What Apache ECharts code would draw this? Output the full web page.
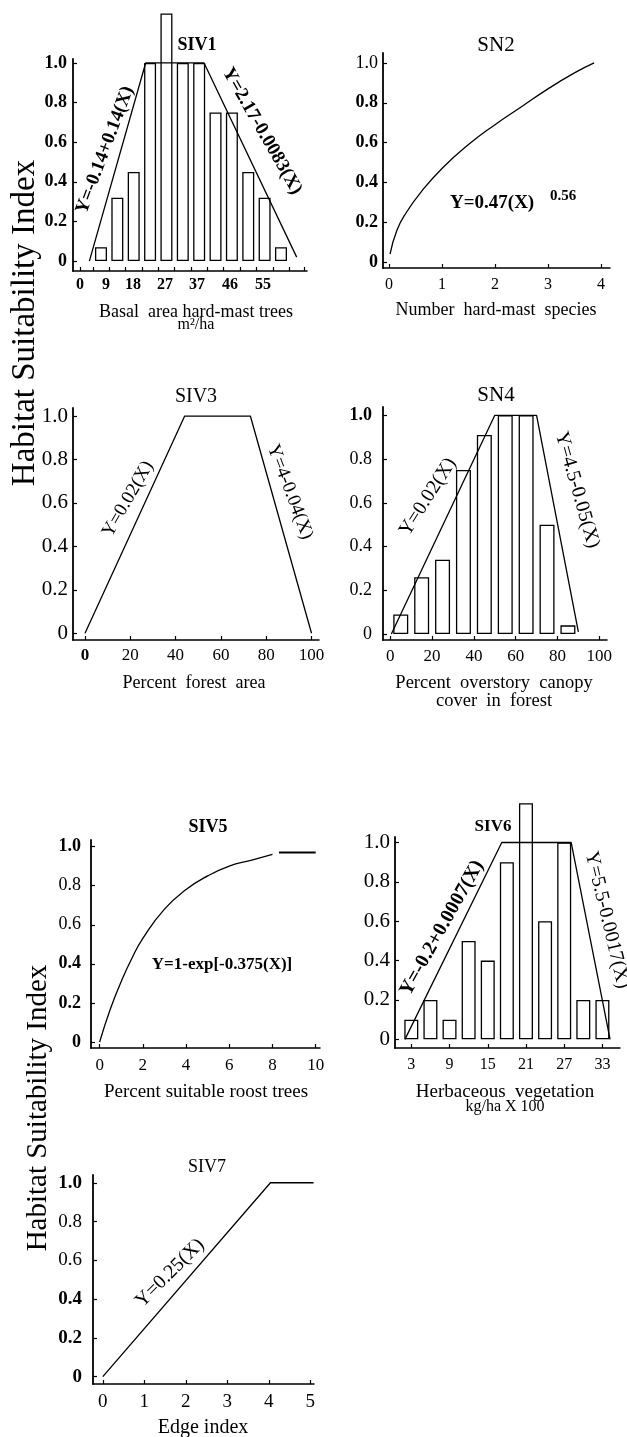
<!DOCTYPE html>
<html>
<head>
<meta charset="utf-8">
<title>Habitat Suitability Index</title>
<script src="https://cdn.jsdelivr.net/npm/echarts@6/dist/echarts.min.js"></script>
<style>html,body{margin:0;padding:0;background:#fff}</style>
</head>
<body>
<div id="main" style="width:627px;height:1437px"></div>
<script type="text/javascript">
// ---- data ----
// SIV1: bars in slot units, line knees, tick labels
var siv1Slots = [1, 2, 3, 4, 5, 6, 7, 8, 9, 10, 11, 12];
var siv1Bars = [0.07, 0.32, 0.45, 1.0, 1.25, 1.0, 1.0, 0.75, 0.75, 0.45, 0.32, 0.07];
var siv1LineX = [0.29, 3.73, 7.30, 12.96];
var siv1LineY = [0, 1, 1, 0.02];
var siv1LabelPos = [-0.28, 1.31, 2.96, 4.91, 6.87, 8.89, 10.9];
var siv1Labels = ['0', '9', '18', '27', '37', '46', '55'];
var siv1TickPos = [-0.28, 0.5, 1.5, 2.5, 3.5, 4.5, 5.5, 6.5, 7.5, 8.5, 9.5, 10.5, 11.5, 12.5, 13.4];

// SN2 curve
var sn2X = [0.02, 0.15, 0.33, 0.6, 1.0, 1.5, 2.0, 2.5, 3.0, 3.5, 3.87];
var sn2Y = [0.04, 0.16, 0.25, 0.35, 0.47, 0.59, 0.69, 0.78, 0.87, 0.95, 1.0];
var sn2Ticks = [0, 1, 2, 3, 4];

// SIV3 trapezoid
var siv3X = [0, 44, 73, 100];
var siv3Y = [0, 1, 1, 0];
var pctTicks = [0, 20, 40, 60, 80, 100];

// SN4 bars + trapezoid
var sn4BarX = [5, 15, 25, 35, 45, 55, 65, 75, 85];
var sn4Bars = [0.09, 0.26, 0.34, 0.75, 0.91, 1.0, 1.0, 0.5, 0.04];
var sn4LineX = [0.5, 50, 70, 90];
var sn4LineY = [0, 1, 1, 0.01];

// SIV5 curve + flat part
var siv5X = [0, 0.5, 1, 1.5, 2, 3, 4, 5, 6, 7, 8];
var siv5Y = [0, 0.17, 0.31, 0.43, 0.53, 0.68, 0.78, 0.85, 0.90, 0.93, 0.96];
var siv5FlatX = [8.3, 10];
var siv5FlatY = [0.97, 0.97];
var siv5Ticks = [0, 2, 4, 6, 8, 10];

// SIV6 bars + trapezoid
var siv6BarX = [3, 6, 9, 12, 15, 18, 21, 24, 27, 30, 33];
var siv6Bars = [0.1, 0.2, 0.1, 0.5, 0.4, 0.9, 1.2, 0.6, 1.0, 0.2, 0.2];
var siv6LineX = [2.0, 17.2, 28.1, 34.2];
var siv6LineY = [0, 1, 1, 0];
var siv6Ticks = [3, 9, 15, 21, 27, 33];

// SIV7 line
var siv7X = [0, 4.04, 5.08];
var siv7Y = [0, 1, 1];
var siv7Ticks = [0, 1, 2, 3, 4, 5];

var yTicks = [0, 0.2, 0.4, 0.6, 0.8, 1.0];

// ---- helpers ----
var FONT = "'Liberation Serif','Times New Roman',serif";
var grids = [], xAxes = [], yAxes = [], series = [];

function pairs(xs, ys) {
    var out = [];
    for (var i = 0; i < xs.length; i++) out.push([xs[i], ys[i]]);
    return out;
}
function fmtY(v) { return Math.abs(v) < 1e-9 ? '0' : v.toFixed(1); }
function fmtNum(v) { return String(Math.round(v)); }
function fmtSiv1(v) {
    var best = 0;
    for (var i = 1; i < siv1LabelPos.length; i++) {
        if (Math.abs(siv1LabelPos[i] - v) < Math.abs(siv1LabelPos[best] - v)) best = i;
    }
    return siv1Labels[best];
}
function labelOpt(size, bold, fmt, vals, margin) {
    return {
        customValues: vals,
        margin: margin,
        fontSize: size,
        fontFamily: FONT,
        color: '#000',
        formatter: function (v) {
            var t = fmt(v);
            return (bold.indexOf(t) >= 0 ? '{b|' : '{r|') + t + '}';
        },
        rich: {
            b: {fontFamily: FONT, fontSize: size, fontWeight: 'bold', color: '#000'},
            r: {fontFamily: FONT, fontSize: size, fontWeight: 'normal', color: '#000'}
        }
    };
}

function addPanel(p) {
    var i = grids.length;
    grids.push({left: p.box[0], top: p.box[1], width: p.box[2], height: p.box[3]});
    xAxes.push({
        type: 'value', gridIndex: i, min: p.x[0], max: p.x[1],
        axisLine: {onZero: false, lineStyle: {color: '#000', width: 1.5}},
        axisTick: {inside: true, length: 4, customValues: p.xTicks, lineStyle: {color: '#000', width: 1.2}},
        axisLabel: labelOpt(p.xFont, p.xBold, p.xFmt, p.xLabels, p.xMargin),
        splitLine: {show: false}
    });
    yAxes.push({
        type: 'value', gridIndex: i, min: p.y[0], max: p.y[1],
        axisLine: {show: true, onZero: false, lineStyle: {color: '#000', width: 1.8}},
        axisTick: {show: true, inside: true, length: 4, customValues: yTicks, lineStyle: {color: '#000', width: 1.2}},
        axisLabel: labelOpt(p.yFont, p.yBold, fmtY, yTicks, p.yMargin),
        splitLine: {show: false}
    });
    return i;
}
function addLine(i, data, smooth, width) {
    series.push({
        type: 'line', xAxisIndex: i, yAxisIndex: i, data: data,
        showSymbol: false, smooth: smooth ? 0.5 : false,
        lineStyle: {color: '#000', width: width || 1.3}, z: 3, clip: false
    });
}
function addBars(i, data, w) {
    series.push({
        type: 'bar', xAxisIndex: i, yAxisIndex: i, data: data, barWidth: w, clip: false,
        itemStyle: {color: '#fff', borderColor: '#000', borderWidth: 1.3}, z: 2
    });
}

// ---- panels ----
var p1 = addPanel({box: [73, 59, 234, 212], x: [-0.71, 13.59], y: [-0.05, 1.02],
    xTicks: siv1TickPos, xLabels: siv1LabelPos, xFmt: fmtSiv1, xFont: 16, xBold: siv1Labels, xMargin: 6,
    yFont: 18, yBold: ['0', '0.2', '0.4', '0.6', '0.8', '1.0'], yMargin: 6});
addBars(p1, pairs(siv1Slots, siv1Bars), 12);
addLine(p1, pairs(siv1LineX, siv1LineY), false);

var p2 = addPanel({box: [383, 53, 227, 215], x: [-0.113, 4.17], y: [-0.03, 1.05],
    xTicks: sn2Ticks, xLabels: sn2Ticks, xFmt: fmtNum, xFont: 16, xBold: [], xMargin: 9,
    yFont: 18, yBold: ['0', '0.2', '0.4', '0.6', '0.8'], yMargin: 5});
addLine(p2, pairs(sn2X, sn2Y), true);

var p3 = addPanel({box: [73, 408, 246, 232], x: [-5.3, 103.3], y: [-0.031, 1.037],
    xTicks: pctTicks, xLabels: pctTicks, xFmt: fmtNum, xFont: 17, xBold: ['0'], xMargin: 7,
    yFont: 21, yBold: [], yMargin: 5});
addLine(p3, pairs(siv3X, siv3Y), false);

var p4 = addPanel({box: [383, 407, 224, 233], x: [-3.5, 103.7], y: [-0.027, 1.038],
    xTicks: pctTicks, xLabels: pctTicks, xFmt: fmtNum, xFont: 17, xBold: [], xMargin: 8,
    yFont: 18, yBold: ['1.0'], yMargin: 11});
addBars(p4, pairs(sn4BarX, sn4Bars), 15);
addLine(p4, pairs(sn4LineX, sn4LineY), false);

var p5 = addPanel({box: [91, 840, 229, 208], x: [-0.4, 10.2], y: [-0.031, 1.034],
    xTicks: siv5Ticks, xLabels: siv5Ticks, xFmt: fmtNum, xFont: 17, xBold: [], xMargin: 9,
    yFont: 18, yBold: ['0', '0.2', '0.4', '1.0'], yMargin: 10});
addLine(p5, pairs(siv5X, siv5Y), true);
addLine(p5, pairs(siv5FlatX, siv5FlatY), false, 2.2);

var p6 = addPanel({box: [395, 837, 225, 211], x: [0.44, 35.76], y: [-0.044, 1.028],
    xTicks: siv6Ticks, xLabels: siv6Ticks, xFmt: fmtNum, xFont: 16, xBold: [], xMargin: 9,
    yFont: 21, yBold: [], yMargin: 5});
addBars(p6, pairs(siv6BarX, siv6Bars), 14);
addLine(p6, pairs(siv6LineX, siv6LineY), false);

var p7 = addPanel({box: [93, 1175, 221, 209], x: [-0.236, 5.09], y: [-0.038, 1.04],
    xTicks: siv7Ticks, xLabels: siv7Ticks, xFmt: fmtNum, xFont: 19, xBold: [], xMargin: 9,
    yFont: 19, yBold: ['0', '0.2', '0.4', '1.0'], yMargin: 11});
addLine(p7, pairs(siv7X, siv7Y), false);

// ---- texts ----
function txt(x, y, text, size, weight, rot, align) {
    return {
        type: 'text', x: x, y: y, rotation: (rot || 0) * Math.PI / 180, z: 10,
        style: {
            text: text, font: (weight || 'normal') + ' ' + size + 'px ' + FONT, fill: '#000',
            textAlign: align || 'center', textVerticalAlign: 'middle',
            align: align || 'center', verticalAlign: 'middle'
        }
    };
}
var texts = [
    txt(25, 323, 'Habitat Suitability Index', 33, 'normal', 90),
    txt(38, 1108, 'Habitat Suitability Index', 29, 'normal', 90),
    // titles
    txt(197, 45, 'SIV1', 18, 'bold'),
    txt(496, 45, 'SN2', 21),
    txt(196, 397, 'SIV3', 20),
    txt(496, 395, 'SN4', 21),
    txt(208, 827, 'SIV5', 18, 'bold'),
    txt(493, 827, 'SIV6', 17, 'bold'),
    txt(207, 1167, 'SIV7', 18),
    // axis names
    txt(196, 312, 'Basal  area hard-mast trees', 18),
    txt(196, 325, 'm²/ha', 16),
    txt(496, 310, 'Number  hard-mast  species', 18),
    txt(194, 683, 'Percent  forest  area', 18),
    txt(494, 683, 'Percent  overstory  canopy', 18.5),
    txt(494, 701, 'cover  in  forest', 18.5),
    txt(206, 1092, 'Percent suitable roost trees', 19),
    txt(505, 1092, 'Herbaceous  vegetation', 19),
    txt(505, 1107, 'kg/ha X 100', 16),
    txt(203, 1428, 'Edge index', 20),
    // equations
    txt(105, 150, 'Y=-0.14+0.14(X)', 19, 'bold', 69.4),
    txt(262, 131, 'Y=2.17-0.0083(X)', 19, 'bold', -60.2),
    txt(450, 203, 'Y=0.47(X)', 19, 'bold', 0, 'left'),
    txt(550, 196, '0.56', 15, 'bold', 0, 'left'),
    txt(128, 499, 'Y=0.02(X)', 19, 'normal', 60),
    txt(290, 492, 'Y=4-0.04(X)', 19, 'normal', -69.2),
    txt(428, 497, 'Y=0.02(X)', 20, 'normal', 57.4),
    txt(577, 490, 'Y=4.5-0.05(X)', 20, 'normal', -74),
    txt(222, 965, 'Y=1-exp[-0.375(X)]', 17, 'bold'),
    txt(442, 928, 'Y=-0.2+0.0007(X)', 20, 'bold', 60.7),
    txt(607, 920, 'Y=5.5-0.0017(X)', 20, 'normal', -76.5),
    txt(170, 1273, 'Y=0.25(X)', 20, 'normal', 45)
];

var chart = echarts.init(document.getElementById('main'), null, {renderer: 'canvas'});
chart.setOption({
    animation: false,
    backgroundColor: '#fff',
    grid: grids,
    xAxis: xAxes,
    yAxis: yAxes,
    series: series,
    graphic: {elements: texts}
});
</script>
</body>
</html>
